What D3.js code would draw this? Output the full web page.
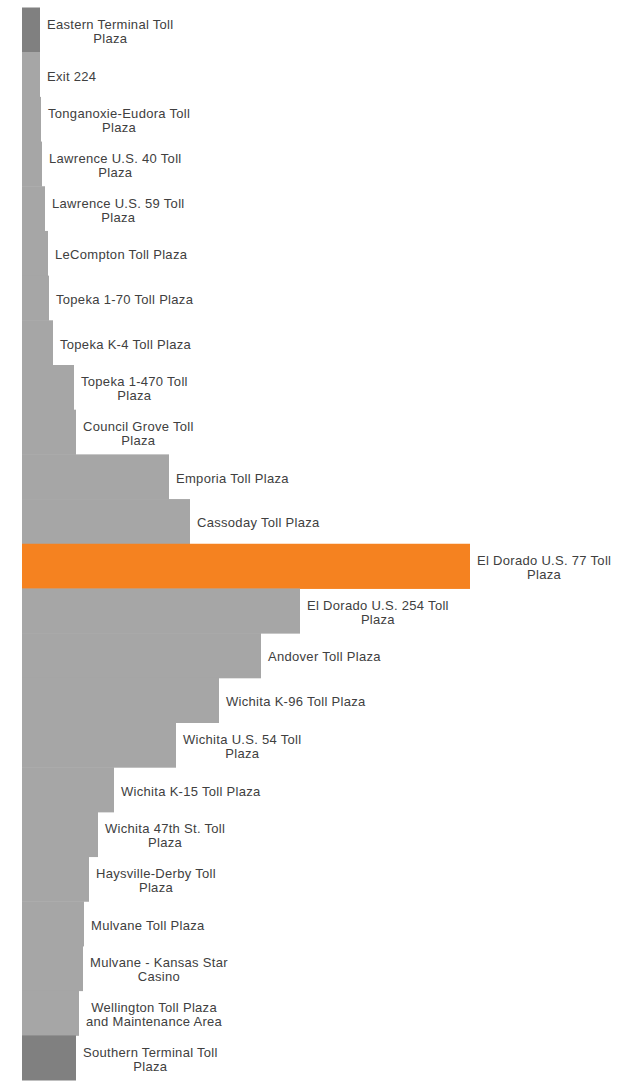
<!DOCTYPE html>
<html>
<head>
<meta charset="utf-8">
<script src="https://cdn.jsdelivr.net/npm/d3@7"></script>
<style>
  html, body { margin: 0; padding: 0; background: #ffffff; }
  svg { display: block; }
  text { font-family: "Liberation Sans", Arial, sans-serif; font-size: 13px; letter-spacing: 0.3px; fill: #404040; }
</style>
</head>
<body>
<svg id="chart" width="618" height="1081"></svg>
<script>
// Toll plazas along the turnpike, north-east to south (line breaks as shown in labels)
const plazas = [
  "Eastern Terminal Toll\nPlaza",
  "Exit 224",
  "Tonganoxie-Eudora Toll\nPlaza",
  "Lawrence U.S. 40 Toll\nPlaza",
  "Lawrence U.S. 59 Toll\nPlaza",
  "LeCompton Toll Plaza",
  "Topeka 1-70 Toll Plaza",
  "Topeka K-4 Toll Plaza",
  "Topeka 1-470 Toll\nPlaza",
  "Council Grove Toll\nPlaza",
  "Emporia Toll Plaza",
  "Cassoday Toll Plaza",
  "El Dorado U.S. 77 Toll\nPlaza",
  "El Dorado U.S. 254 Toll\nPlaza",
  "Andover Toll Plaza",
  "Wichita K-96 Toll Plaza",
  "Wichita U.S. 54 Toll\nPlaza",
  "Wichita K-15 Toll Plaza",
  "Wichita 47th St. Toll\nPlaza",
  "Haysville-Derby Toll\nPlaza",
  "Mulvane Toll Plaza",
  "Mulvane - Kansas Star\nCasino",
  "Wellington Toll Plaza\nand Maintenance Area",
  "Southern Terminal Toll\nPlaza"
];

// Relative distance value for each plaza
const distances = [
  18, 18, 19, 20, 23, 26, 27, 31, 52, 54, 147, 168,
  448, 278, 239, 197, 154, 92, 76, 67, 62, 61, 57, 54
];

// Bar role: terminal ends, highlighted plaza, regular plaza
const roles = [
  "terminal", "plaza", "plaza", "plaza", "plaza", "plaza", "plaza", "plaza",
  "plaza", "plaza", "plaza", "plaza", "highlight", "plaza", "plaza", "plaza",
  "plaza", "plaza", "plaza", "plaza", "plaza", "plaza", "plaza", "terminal"
];

const roleColors = { terminal: "#808080", plaza: "#a6a6a6", highlight: "#f58220" };

const data = plazas.map((p, i) => ({ plaza: p, value: distances[i], role: roles[i] }));

const svg = d3.select("#chart");
const left = 22;

const x = d3.scaleLinear()
  .domain([0, d3.max(distances)])
  .range([left, 470]);

const y = d3.scaleBand()
  .domain(plazas)
  .range([7.5, 1080])
  .padding(0);

svg.append("g")
  .selectAll("rect")
  .data(data)
  .join("rect")
  .attr("x", x(0))
  .attr("y", d => y(d.plaza))
  .attr("width", d => x(d.value) - x(0))
  .attr("height", y.bandwidth() + 0.5)
  .attr("fill", d => roleColors[d.role]);

const lineH = 14;
const labels = svg.append("g")
  .selectAll("text")
  .data(data)
  .join("text")
  .attr("text-anchor", "middle");

labels.each(function (d) {
  const t = d3.select(this);
  const lines = d.plaza.split("\n");
  const n = lines.length;
  const cy = y(d.plaza) + y.bandwidth() / 2;
  const y0 = cy - (n - 1) * lineH / 2 + 6;
  lines.forEach((ln, i) => {
    t.append("tspan").attr("y", y0 + i * lineH).text(ln);
  });
  let w = 0;
  t.selectAll("tspan").each(function () { w = Math.max(w, this.getComputedTextLength()); });
  const cx = x(d.value) + 7 + w / 2;
  t.attr("x", cx).selectAll("tspan").attr("x", cx);
});
</script>
</body>
</html>
